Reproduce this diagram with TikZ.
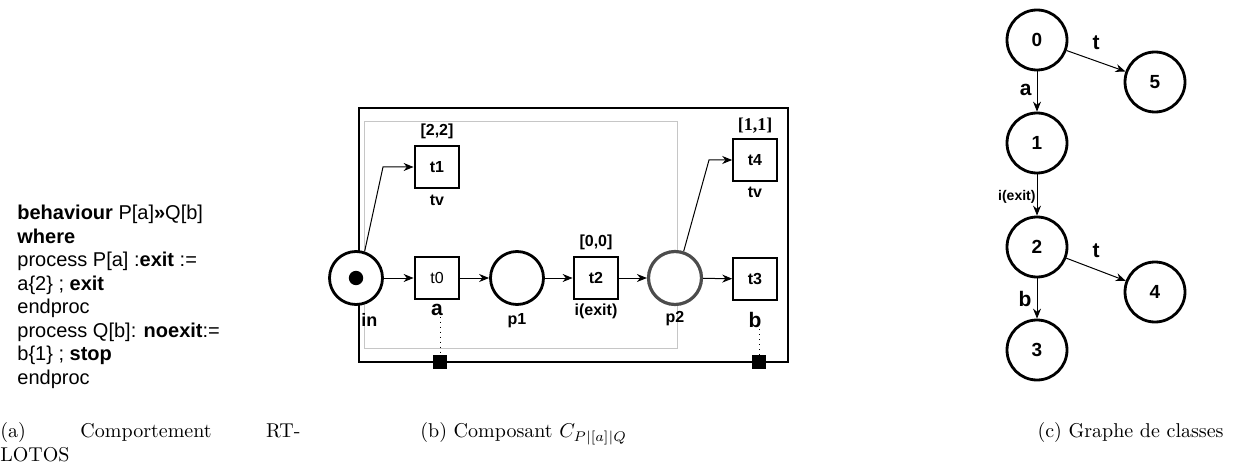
\documentclass[tikz,border=0pt]{standalone}
\usepackage{fontspec}
\newfontfamily\arialfont{Liberation Sans}
\newfontfamily\timesfont{Liberation Serif}
\usetikzlibrary{arrows.meta, positioning}

\begin{document}
\begin{tikzpicture}[x=0.5pt, y=-0.5pt,
  place/.style={circle, draw, fill=white, line width=1.4pt, minimum size=26.5pt, inner sep=0pt},
  trans/.style={rectangle, draw, fill=white, line width=1.4pt, minimum width=22pt, minimum height=21pt,
    inner sep=0pt, font=\arialfont\bfseries\fontsize{8}{8}\selectfont},
  thintrans/.style={trans, line width=0.8pt},
  arc/.style={-{Stealth[length=5pt, width=4pt]}, line width=0.5pt},
  lbl/.style={font=\arialfont\bfseries\fontsize{8}{9}\selectfont, inner sep=0.5pt},
  biglbl/.style={font=\arialfont\bfseries\fontsize{10.5}{11}\selectfont, inner sep=0.5pt},
  state/.style={circle, draw, line width=1.4pt, minimum size=30pt, inner sep=0pt,
    font=\arialfont\bfseries\fontsize{9.5}{10}\selectfont},
  port/.style={rectangle, fill, minimum size=7pt, inner sep=0pt}]
  \useasboundingbox (0,0) rectangle (1237,476);
  % (a) texte RT-LOTOS
  \node[anchor=north west, inner sep=0pt, align=left,
    font=\arialfont\fontsize{10}{11.75}\selectfont] (code) at (17,205)
    {{\bfseries behaviour} P[a]{\bfseries »}Q[b]\\
     {\bfseries where}\\
     process P[a] :{\bfseries exit} :=\\
     a\{2\} ; {\bfseries exit}\\
     endproc\\
     process Q[b]: {\bfseries noexit}:=\\
     b\{1\} ; {\bfseries stop}\\
     endproc};
  % (b) composant
  \draw[line width=0.7pt] (359,108) rectangle (788,362);
  \draw[gray!45, line width=0.5pt] (364,122) rectangle (677,348);
  \node[place] (in) at (356,278) {};
  \fill (in.center) circle (3.6pt);
  \node[trans, font=\arialfont\fontsize{8}{8}\selectfont] (t0) at (437,278) {t0};
  \node[place] (p1) at (517,278) {};
  \node[trans] (t2) at (596,278) {t2};
  \node[place, draw=black!70, line width=1.6pt] (p2) at (675,278) {};
  \node[thintrans] (t3) at (755,279) {t3};
  \node[trans] (t1) at (437,167) {t1};
  \node[thintrans] (t4) at (755,160) {t4};
  \coordinate (bend1) at (383,167);
  \coordinate (bend4) at (709,160);
  \draw[arc] (in) -- (t0);
  \draw[arc] (t0) -- (p1);
  \draw[arc] (p1) -- (t2);
  \draw[arc] (t2) -- (p2);
  \draw[arc] (p2) -- (t3);
  \draw[arc] (in.72) -- (bend1) -- (t1);
  \draw[arc] (p2.72) -- (bend4) -- (t4);
  \node[lbl, above=2pt of t1] (i1) {[2,2]};
  \node[lbl, below=2pt of t1] (l1) {tv};
  \node[lbl, above=2pt of t2] (i2) {[0,0]};
  \node[lbl, below=1pt of t2] (l2) {i(exit)};
  \node[lbl, font=\timesfont\bfseries\fontsize{9}{9}\selectfont, above=2pt of t4] (i4) {[1,1]};
  \node[lbl, below=2pt of t4] (l4) {tv};
  \node[biglbl, below=1pt of t0] (l0) {a};
  \node[biglbl, below=5pt of t3] (l3) {b};
  \node[lbl, font=\arialfont\bfseries\fontsize{9}{9}\selectfont, anchor=north west]
    (lin) at ([xshift=2pt, yshift=-3pt]in.south) {in};
  \node[lbl, below=3pt of p1] (lp1) {p1};
  \node[lbl, below=2pt of p2] (lp2) {p2};
  \node[port] (pa) at (440,362) {};
  \node[port] (pb) at (759,362) {};
  \draw[dotted, line width=0.5pt] (l0.south -| pa) -- (pa);
  \draw[dotted, line width=0.5pt] (l3.south -| pb) -- (pb);
  % (c) graphe de classes
  \node[state] (s0) at (1037,40) {0};
  \node[state] (s1) at (1037,143) {1};
  \node[state] (s2) at (1037,247) {2};
  \node[state] (s3) at (1037,350) {3};
  \node[state] (s4) at (1155,292) {4};
  \node[state] (s5) at (1155,82) {5};
  \draw[arc] (s0) -- node[biglbl, left=2pt, pos=0.45] (ea) {a} (s1);
  \draw[arc] (s0) -- node[biglbl, above=5pt, pos=0.5] (et5) {t} (s5);
  \draw[arc] (s1) -- node[lbl, font=\arialfont\bfseries\fontsize{7}{7}\selectfont,
    left=0pt, pos=0.55] (ex) {i(exit)} (s2);
  \draw[arc] (s2) -- node[biglbl, left=2pt, pos=0.5] (eb) {b} (s3);
  \draw[arc] (s2) -- node[biglbl, above=5pt, pos=0.5] (et4) {t} (s4);
  % legendes
  \node[anchor=north west, inner sep=0pt, text width=150pt, align=left,
    font=\fontsize{10}{12}\selectfont] (capa) at (0,422)
    {(a)\hfill Comportement\hfill RT-\\LOTOS};
  \node[anchor=north west, inner sep=0pt, font=\fontsize{10}{12}\selectfont] (capb)
    at (420,422) {(b) Composant $C_{P|[a]|Q}$};
  \node[anchor=north east, inner sep=0pt, font=\fontsize{10}{12}\selectfont] (capc)
    at (1224,422) {(c) Graphe de classes};
\end{tikzpicture}
\end{document}
